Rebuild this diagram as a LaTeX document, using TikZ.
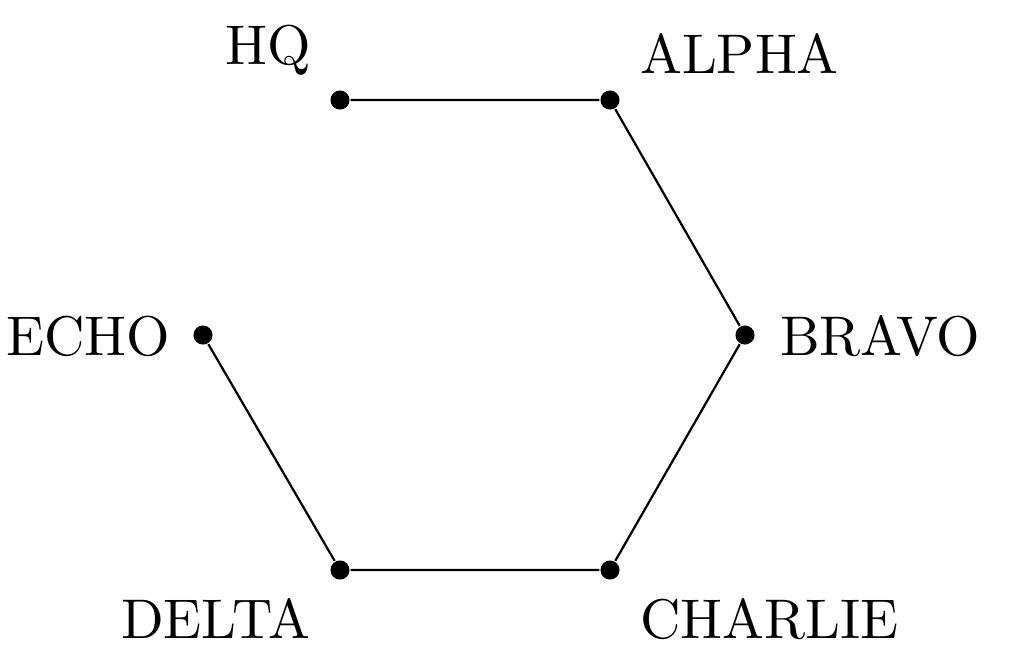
\documentclass[tikz,border=0pt]{standalone}
\begin{document}
\begin{tikzpicture}[x=0.18868pt,y=-0.18868pt,
  pt/.style={circle,fill=black,inner sep=0pt,minimum size=3.6pt},
  lbl/.style={inner sep=0pt,font=\fontsize{10.55}{12}\selectfont},
  edge/.style={line width=0.42pt}]
\useasboundingbox (0,0) rectangle (1010,662);
\node[pt] (hq) at (340,100) {};
\node[pt] (alpha) at (610,100) {};
\node[pt] (bravo) at (745,335) {};
\node[pt] (charlie) at (610,570) {};
\node[pt] (delta) at (340,570) {};
\node[pt] (echo) at (203,335) {};
\node[lbl,anchor=base east] (lhq) at (312,64) {HQ};
\node[lbl,anchor=base west] (lalpha) at (639,73) {ALPHA};
\node[lbl,anchor=base west] (lbravo) at (779,355) {BRAVO};
\node[lbl,anchor=base west] (lcharlie) at (639,638) {CHARLIE};
\node[lbl,anchor=base east] (ldelta) at (311,638) {DELTA};
\node[lbl,anchor=base east] (lecho) at (171,355) {ECHO};
\draw[edge] (hq) -- (alpha) -- (bravo) -- (charlie) -- (delta) -- (echo);
\end{tikzpicture}
\end{document}
